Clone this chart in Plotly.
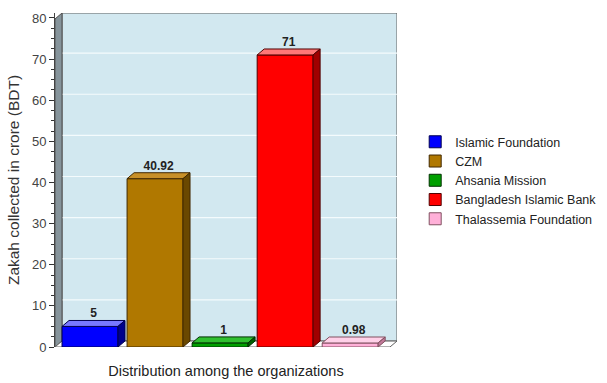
import plotly.graph_objects as go

organizations = ["Islamic Foundation", "CZM", "Ahsania Mission",
                 "Bangladesh Islamic Bank", "Thalassemia Foundation"]
zakah_crore = [5, 40.92, 1, 71, 0.98]
value_labels = ["5", "40.92", "1", "71", "0.98"]
front_colors = ["#0000ff", "#b07800", "#00a000", "#ff0000", "#ffb0d8"]
top_colors = ["#7878ff", "#c89028", "#30c030", "#ff7878", "#ffd0e8"]
side_colors = ["#00008c", "#6a4800", "#006000", "#a00000", "#c07898"]
edge_colors = ["#000050", "#402800", "#003000", "#500000", "#805060"]
y_ticks = [0, 10, 20, 30, 40, 50, 60, 70, 80]

BW = 0.86          # bar width (category units)
DX = 0.108         # 3D depth, horizontal (category units)
DY = 1.45          # 3D depth, vertical (value units)
X0, X1 = -0.538, 4.72
Y_TOP = 81.2

fig = go.Figure()

# front faces
for i, (org, v) in enumerate(zip(organizations, zakah_crore)):
    fig.add_trace(go.Bar(
        x=[i], y=[v], width=BW, name=org,
        marker=dict(color=front_colors[i], line=dict(color=edge_colors[i], width=1)),
        hoverinfo="name+y",
    ))

# top and side faces + labels
for i, v in enumerate(zakah_crore):
    l, r = i - BW / 2, i + BW / 2
    fig.add_trace(go.Scatter(
        x=[l, l + DX, r + DX, r, l], y=[v, v + DY, v + DY, v, v],
        fill="toself", fillcolor=top_colors[i], mode="lines",
        line=dict(color=edge_colors[i], width=1), showlegend=False, hoverinfo="skip"))
    fig.add_trace(go.Scatter(
        x=[r, r + DX, r + DX, r, r], y=[0, DY, v + DY, v, 0],
        fill="toself", fillcolor=side_colors[i], mode="lines",
        line=dict(color=edge_colors[i], width=1), showlegend=False, hoverinfo="skip"))
    fig.add_trace(go.Scatter(
        x=[i + DX / 2], y=[v + DY], mode="text", text=["<b>" + value_labels[i] + "</b>"],
        textposition="top center", textfont=dict(size=12, color="#222222", family="Arial"),
        showlegend=False, hoverinfo="skip"))

shapes = []
# back wall
shapes.append(dict(type="rect", xref="x", yref="y", x0=X0 + DX, x1=X1, y0=DY, y1=Y_TOP,
                   fillcolor="#d2e8f0", line=dict(color="#606060", width=1), layer="below"))
# grid lines on back wall
for t in y_ticks[1:]:
    shapes.append(dict(type="line", xref="x", yref="y", x0=X0 + DX, x1=X1, y0=t + DY, y1=t + DY,
                       line=dict(color="#f4fbfd", width=1.2), layer="below"))
# left wall
shapes.append(dict(type="path", xref="x", yref="y",
                   path=f"M{X0},0 L{X0 + DX},{DY} L{X0 + DX},{Y_TOP} L{X0},{Y_TOP - DY} Z",
                   fillcolor="#86949b", line=dict(color="#505050", width=1), layer="below"))
# floor
shapes.append(dict(type="path", xref="x", yref="y",
                   path=f"M{X0},0 L{X0 + DX},{DY} L{X1},{DY} L{X1 - DX},0 Z",
                   fillcolor="#ffffff", line=dict(color="#606060", width=1), layer="below"))

fig.update_layout(
    width=607, height=383,
    margin=dict(l=55, r=210, t=11, b=36),
    paper_bgcolor="white", plot_bgcolor="white",
    barmode="overlay",
    shapes=shapes,
    font=dict(family="Arial", size=12, color="#333333"),
    legend=dict(xref="container", yref="container", x=0.684, y=0.668,
                xanchor="left", yanchor="top",
                font=dict(size=12.5, color="#222222"), tracegroupgap=0,
                itemwidth=30, bgcolor="rgba(0,0,0,0)"),
    xaxis=dict(range=[X0, X1], showticklabels=False, showgrid=False, zeroline=False,
               ticks="", showline=False, automargin=False,
               title=dict(text="Distribution among the organizations",
                          font=dict(size=14.5, color="#222222"), standoff=18)),
    yaxis=dict(range=[0, Y_TOP], tickvals=y_ticks, showgrid=False, zeroline=False,
               ticks="outside", ticklen=5, tickcolor="#333333",
               showline=True, linecolor="#444444", linewidth=1,
               minor=dict(dtick=2.5, ticks="outside", ticklen=3, tickcolor="#333333"),
               tickfont=dict(size=13, color="#444444"),
               title=dict(text="Zakah collected in crore (BDT)",
                          font=dict(size=15.5, color="#333333"), standoff=8)),
)

fig.write_html("out.html")
